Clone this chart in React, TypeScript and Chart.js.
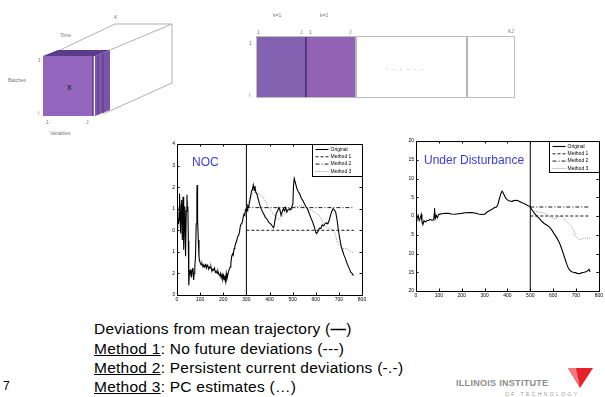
import React, { useEffect, useRef } from 'react';
import Chart from 'chart.js/auto';

// ---------- DATA ----------
const xTicks = [0, 100, 200, 300, 400, 500, 600, 700, 800];
const xTickLabels = ['0', '100', '200', '300', '400', '500', '600', '700', '800'];
const legendLabels = ['Original', 'Method 1', 'Method 2', 'Method 3'];

// NOC chart
const nocYTicks = [-3, -2, -1, 0, 1, 2, 3, 4];
const nocYTickLabels = ['3', '2', '1', '0', '1', '2', '3', '4'];
const nocTime = [0, 2, 4, 6, 9, 11, 13, 16, 18, 20, 22, 23, 26, 28, 30, 32, 34, 37, 40, 43, 45, 47, 49, 51, 54, 57, 60, 63, 66, 69, 72, 74, 77, 80, 83, 86, 87, 89, 92, 95, 97, 100, 104, 108, 112, 116, 119, 123, 127, 130, 133, 137, 140, 144, 147, 151, 155, 158, 162, 166, 170, 174, 177, 181, 185, 188, 191, 195, 198, 201, 204, 207, 210, 213, 216, 219, 222, 226, 230, 233, 237, 240, 243, 247, 250, 254, 258, 262, 266, 270, 274, 278, 282, 286, 290, 293, 296, 300, 303, 306, 310, 314, 318, 322, 326, 330, 334, 337, 341, 345, 350, 356, 362, 368, 375, 382, 390, 398, 405, 412, 417, 420, 425, 430, 436, 440, 445, 450, 455, 460, 465, 470, 475, 480, 486, 492, 497, 501, 504, 507, 512, 518, 524, 530, 537, 543, 550, 557, 564, 571, 578, 586, 594, 600, 604, 610, 616, 622, 628, 634, 640, 646, 652, 658, 664, 670, 675, 680, 686, 692, 698, 704, 710, 716, 722, 728, 734, 740, 746, 752, 757, 763];
const nocOriginal = [0.1, 0.9, 1.1, 0.3, 0.5, 1.7, 0.6, -0.15, 1.2, 1.4, 0.2, -0.45, 1.55, 0.8, -0.9, 0.5, 1.1, -1.2, 0.9, 1.65, 1.0, 1.1, -0.5, -2.55, -1.9, -1.85, -2.1, -2.15, -1.8, -1.75, -2.3, -2.0, -1.7, -1.2, 0.3, 1.6, 2.1, 0.5, -0.45, -1.2, -1.4, -1.5, -1.6, -1.55, -1.7, -1.6, -1.7, -1.6, -1.75, -1.6, -1.65, -1.8, -1.7, -1.75, -1.7, -1.9, -1.8, -1.85, -1.75, -1.95, -1.9, -2.0, -1.9, -2.05, -2.1, -2.0, -2.2, -2.05, -2.25, -2.1, -2.3, -2.1, -2.35, -2.0, -2.25, -2.1, -1.95, -1.8, -1.7, -1.5, -1.2, -1.1, -1.15, -0.85, -0.75, -0.6, -0.5, -0.3, -0.25, -0.1, 0.2, 0.3, 0.35, 0.6, 0.75, 0.7, 0.95, 1.0, 0.9, 1.15, 1.1, 1.3, 1.55, 1.8, 1.9, 2.1, 1.85, 2.05, 1.75, 1.7, 1.5, 1.25, 1.05, 0.9, 0.75, 0.6, 0.5, 0.35, 0.3, 0.2, 0.12, 0.2, 0.55, 0.8, 0.9, 1.05, 0.95, 0.7, 0.85, 1.0, 0.9, 1.05, 0.85, 0.95, 1.0, 0.95, 1.1, 1.2, 2.1, 2.4, 2.2, 1.95, 1.8, 1.7, 1.5, 1.4, 1.25, 1.1, 1.0, 0.8, 0.6, 0.4, 0.15, -0.1, -0.15, -0.05, 0.1, 0.08, 0.25, 0.2, 0.3, 0.35, 0.3, 0.45, 0.7, 0.9, 1.0, 0.95, 0.85, 0.5, 0.0, -0.4, -0.75, -0.95, -1.15, -1.3, -1.5, -1.65, -1.8, -1.95, -2.0, -2.1];
const nocM3Time = [300, 310, 318, 326, 334, 344, 352, 362, 371, 382, 393, 404, 414, 425, 436, 446, 457, 468, 479, 493, 507, 521, 536, 550, 564, 575, 586, 600, 614, 625, 636, 647, 657, 668, 679, 686, 693, 703, 714, 725, 736, 746, 757, 763];
const nocMethod3 = [1.0, 1.3, 1.55, 1.7, 1.75, 1.75, 1.7, 1.6, 1.55, 1.35, 1.1, 0.95, 0.8, 0.65, 0.5, 0.55, 0.7, 0.8, 0.85, 0.95, 1.1, 1.1, 1.15, 1.1, 1.0, 0.95, 0.9, 0.8, 0.7, 0.5, 0.25, 0.15, 0.1, 0.05, 0.0, -0.25, -0.55, -0.7, -0.85, -0.85, -0.85, -0.95, -1.0, -1.05];
const nocFlatTime = [300, 765];
const nocMethod1 = [0, 0];
const nocMethod2 = [1.05, 1.05];
const nocSplit = 300;

// Disturbance chart
const disYTicks = [-20, -15, -10, -5, 0, 5, 10, 15, 20];
const disYTickLabels = ['20', '15', '10', '5', '0', '5', '10', '15', '20'];
const disTime = [0, 4, 9, 14, 19, 23, 26, 30, 35, 41, 48, 55, 62, 70, 77, 80, 81, 84, 88, 93, 99, 106, 113, 128, 142, 156, 171, 186, 200, 215, 230, 243, 258, 272, 287, 301, 310, 316, 327, 338, 345, 352, 358, 364, 369, 374, 377, 381, 386, 392, 400, 410, 420, 428, 436, 445, 455, 462, 472, 483, 492, 500, 508, 519, 530, 540, 550, 561, 572, 583, 594, 604, 615, 626, 633, 640, 647, 654, 660, 666, 672, 679, 688, 697, 705, 712, 720, 726, 736, 747, 753, 757, 762];
const disOriginal = [0, -0.7, 0.2, -1.2, -0.5, 0.4, -1.6, -2.3, -1.2, -1.6, -1.2, -1.2, -0.9, -1.2, -1.0, 0.5, 2.1, -0.7, 0.2, -0.5, 0.4, 0.5, 0.6, 0.7, 0.7, 0.55, 0.45, 0.6, 0.7, 0.85, 0.9, 0.9, 0.8, 0.55, 0.4, 0.5, 1.0, 1.25, 1.6, 2.0, 2.3, 2.4, 3.0, 4.4, 5.5, 6.4, 6.6, 6.2, 5.6, 4.8, 4.3, 4.0, 3.9, 4.1, 4.2, 4.1, 3.8, 3.6, 3.3, 3.0, 2.7, 2.4, 1.6, 0.6, -0.1, -0.7, -1.4, -2.0, -2.4, -2.9, -3.7, -4.7, -5.7, -6.9, -8.0, -9.2, -10.5, -11.8, -12.9, -13.8, -14.4, -14.8, -15.0, -15.1, -15.3, -15.4, -15.3, -15.1, -15.0, -14.8, -14.5, -14.2, -14.9];
const disM3Time = [500, 504, 507, 516, 526, 537, 547, 558, 569, 580, 590, 600, 612, 622, 633, 640, 647, 655, 662, 672, 683, 690, 697, 704, 712, 722, 733, 745, 755, 762];
const disMethod3 = [2.4, 1.6, 1.5, 1.3, 1.25, 1.1, 0.9, 0.8, 0.6, 0.1, -0.45, -0.6, -0.7, -0.3, 0.0, -0.3, -0.7, -1.2, -1.6, -2.2, -2.9, -3.8, -5.2, -5.8, -6.2, -6.2, -6.0, -5.9, -5.9, -5.9];
const disFlatTime = [500, 762];
const disMethod1 = [0, 0];
const disMethod2 = [2.4, 2.4];
const disSplit = 500;

// ---------- helpers ----------
const FONT = '"Liberation Sans", Arial, Helvetica, sans-serif';
const pts = (xs: number[], ys: number[]) => xs.map((x, i) => ({ x, y: ys[i] }));

const framePlugin = {
  id: 'frameBox',
  afterDraw(chart: any) {
    const { ctx, chartArea: a, scales } = chart;
    ctx.save();
    ctx.strokeStyle = '#000';
    ctx.lineWidth = 1;
    ctx.strokeRect(Math.round(a.left) + 0.5, Math.round(a.top) + 0.5, Math.round(a.right - a.left), Math.round(a.bottom - a.top));
    const tl = 2.5;
    ctx.beginPath();
    scales.x.ticks.forEach((t: any) => {
      const px = Math.round(scales.x.getPixelForValue(t.value)) + 0.5;
      ctx.moveTo(px, a.bottom); ctx.lineTo(px, a.bottom - tl);
      ctx.moveTo(px, a.top); ctx.lineTo(px, a.top + tl);
    });
    scales.y.ticks.forEach((t: any) => {
      const py = Math.round(scales.y.getPixelForValue(t.value)) + 0.5;
      ctx.moveTo(a.left, py); ctx.lineTo(a.left + tl, py);
      ctx.moveTo(a.right, py); ctx.lineTo(a.right - tl, py);
    });
    ctx.stroke();
    ctx.restore();
  },
};

const legendPlugin = {
  id: 'boxLegend',
  afterDraw(chart: any, _args: any, opts: any) {
    const { ctx, chartArea: a } = chart;
    const w = opts.width, h = opts.height;
    const x0 = Math.round(a.right - w) + 0.5, y0 = Math.round(a.top) + 0.5;
    ctx.save();
    ctx.fillStyle = '#fff';
    ctx.fillRect(x0, y0, w, h);
    ctx.strokeStyle = '#000';
    ctx.lineWidth = 1;
    ctx.strokeRect(x0, y0, w, h);
    const rows = chart.data.datasets.slice(0, 4);
    ctx.font = `5px ${FONT}`;
    ctx.textBaseline = 'middle';
    rows.forEach((ds: any, i: number) => {
      const y = y0 + opts.rowTop + i * opts.rowGap;
      ctx.beginPath();
      ctx.setLineDash(ds.borderDash || []);
      ctx.strokeStyle = ds.borderColor;
      ctx.lineWidth = ds.borderWidth;
      ctx.moveTo(x0 + 3, y);
      ctx.lineTo(x0 + 16, y);
      ctx.stroke();
      ctx.setLineDash([]);
      ctx.fillStyle = '#000';
      ctx.fillText(legendLabels[i], x0 + 18, y);
    });
    ctx.restore();
  },
};

function makeConfig(o: any) {
  return {
    type: 'line',
    data: {
      datasets: [
        { label: legendLabels[0], data: pts(o.t, o.orig), borderColor: '#000', borderWidth: 1.1, pointRadius: 0, tension: 0 },
        { label: legendLabels[1], data: pts(o.flatT, o.m1), borderColor: '#000', borderWidth: 0.9, borderDash: [3, 2], pointRadius: 0 },
        { label: legendLabels[2], data: pts(o.flatT, o.m2), borderColor: '#000', borderWidth: 0.9, borderDash: [4, 2, 1, 2], pointRadius: 0 },
        { label: legendLabels[3], data: pts(o.m3T, o.m3), borderColor: '#8c8c8c', borderWidth: 0.9, borderDash: [1, 1], pointRadius: 0 },
        { label: 'split', data: [{ x: o.split, y: o.yMin }, { x: o.split, y: o.yMax }], borderColor: '#000', borderWidth: 1, pointRadius: 0 },
      ],
    },
    options: {
      responsive: false,
      maintainAspectRatio: false,
      animation: false,
      events: [],
      layout: { padding: o.padding },
      plugins: {
        legend: { display: false },
        tooltip: { enabled: false },
        boxLegend: o.legend,
      },
      scales: {
        x: {
          type: 'linear', min: 0, max: 800,
          afterBuildTicks: (s: any) => { s.ticks = xTicks.map((v) => ({ value: v })); },
          afterFit: (s: any) => { s.height = 10; },
          ticks: {
            font: { size: 5, family: FONT }, color: '#000', padding: 2, maxRotation: 0, autoSkip: false,
            callback: (v: number) => { const i = xTicks.indexOf(v); return i >= 0 ? xTickLabels[i] : ''; },
          },
          grid: { display: false, drawTicks: false },
          border: { display: false },
        },
        y: {
          type: 'linear', min: o.yMin, max: o.yMax,
          afterBuildTicks: (s: any) => { s.ticks = o.yTicks.map((v: number) => ({ value: v })); },
          afterFit: (s: any) => { s.width = o.yWidth; },
          ticks: {
            font: { size: 5, family: FONT }, color: '#000', padding: 2, autoSkip: false,
            callback: (v: number) => { const i = o.yTicks.indexOf(v); return i >= 0 ? o.yLabels[i] : ''; },
          },
          grid: { display: false, drawTicks: false },
          border: { display: false },
        },
      },
    },
    plugins: [framePlugin, legendPlugin],
  } as any;
}

function ChartBox({ config, left, top, width, height }: any) {
  const ref = useRef<HTMLCanvasElement>(null);
  useEffect(() => {
    const chart = new Chart(ref.current as HTMLCanvasElement, config);
    return () => chart.destroy();
  }, []);
  return (
    <canvas ref={ref} width={width} height={height}
      style={{ position: 'absolute', left, top, width, height }} />
  );
}

const nocConfig = makeConfig({
  t: nocTime, orig: nocOriginal, m3T: nocM3Time, m3: nocMethod3, flatT: nocFlatTime,
  m1: nocMethod1, m2: nocMethod2, split: nocSplit, yMin: -3, yMax: 4,
  yTicks: nocYTicks, yLabels: nocYTickLabels, yWidth: 22,
  padding: { left: 0, top: 6, right: 8, bottom: 0 },
  legend: { width: 50, height: 32, rowTop: 5, rowGap: 7.3 },
});
const disConfig = makeConfig({
  t: disTime, orig: disOriginal, m3T: disM3Time, m3: disMethod3, flatT: disFlatTime,
  m1: disMethod1, m2: disMethod2, split: disSplit, yMin: -20, yMax: 20,
  yTicks: disYTicks, yLabels: disYTickLabels, yWidth: 24,
  padding: { left: 0, top: 7, right: 5, bottom: 0 },
  legend: { width: 50, height: 31, rowTop: 5, rowGap: 7.3 },
});

const tiny: React.CSSProperties = { position: 'absolute', fontFamily: FONT, fontSize: 5, color: '#777', lineHeight: '6px', whiteSpace: 'nowrap' };
const line: React.CSSProperties = { position: 'absolute', left: 94, fontFamily: FONT, fontSize: 15.5, letterSpacing: 0.25, color: '#000', lineHeight: '16px', whiteSpace: 'nowrap' };

export default function App() {
  return (
    <div style={{ position: 'fixed', left: 0, top: 0, width: 605, height: 397, background: '#fff', overflow: 'hidden' }}>
      {/* 3-D data block */}
      <svg width={200} height={140} style={{ position: 'absolute', left: 0, top: 0 }}>
        <g stroke="#b0b0b0" strokeWidth={1} fill="none">
          <line x1={60} y1={50} x2={115} y2={24} />
          <line x1={115} y1={24} x2={172} y2={24} />
          <line x1={110} y1={50} x2={172} y2={24} />
          <line x1={172} y1={24} x2={172} y2={83} />
          <line x1={103} y1={114} x2={172} y2={83} />
        </g>
        <polygon points="43,56 58,50 110,50 95,56" fill="#5b3c88" />
        <polygon points="95,56 110,50 110,110 95,116" fill="#7a55aa" />
        <line x1={98} y1={55} x2={98} y2={115} stroke="#5b3c88" strokeWidth={1} />
        <line x1={103} y1={53} x2={103} y2={113} stroke="#5b3c88" strokeWidth={1} />
        <rect x={43} y={56} width={50} height={60} fill="#9466bd" />
        <line x1={93} y1={56} x2={93} y2={116} stroke="#5b3c88" strokeWidth={1.5} />
        <text x={67} y={90} fontSize={7} fontFamily={FONT} fill="#333" fontWeight="bold">X</text>
      </svg>
      <div style={{ ...tiny, left: 114, top: 14 }}>K</div>
      <div style={{ ...tiny, left: 60, top: 32 }}>Time</div>
      <div style={{ ...tiny, left: 8, top: 77 }}>Batches</div>
      <div style={{ ...tiny, left: 38, top: 57 }}>1</div>
      <div style={{ ...tiny, left: 38, top: 110 }}>I</div>
      <div style={{ ...tiny, left: 46, top: 119 }}>1</div>
      <div style={{ ...tiny, left: 86, top: 119 }}>J</div>
      <div style={{ ...tiny, left: 50, top: 130 }}>Variables</div>

      {/* unfolded matrix */}
      <div style={{ position: 'absolute', left: 256, top: 36, width: 259, height: 62, border: '1.5px solid #bdbdbd', boxSizing: 'border-box', background: '#fff' }} />
      <div style={{ position: 'absolute', left: 257, top: 37, width: 49, height: 60, background: '#8262b0' }} />
      <div style={{ position: 'absolute', left: 305, top: 37, width: 2, height: 60, background: '#563a80' }} />
      <div style={{ position: 'absolute', left: 307, top: 37, width: 48, height: 60, background: '#9263b5' }} />
      <div style={{ position: 'absolute', left: 355, top: 37, width: 1.5, height: 60, background: '#b5b5b5' }} />
      <div style={{ position: 'absolute', left: 466, top: 37, width: 1.5, height: 60, background: '#b5b5b5' }} />
      <div style={{ ...tiny, left: 386, top: 66, letterSpacing: 2 }}>- - - - - -</div>
      <div style={{ ...tiny, left: 273, top: 12 }}>k=1</div>
      <div style={{ ...tiny, left: 320, top: 12 }}>k=2</div>
      <div style={{ ...tiny, left: 257, top: 29 }}>1</div>
      <div style={{ ...tiny, left: 300, top: 29 }}>J</div>
      <div style={{ ...tiny, left: 309, top: 29 }}>1</div>
      <div style={{ ...tiny, left: 349, top: 29 }}>J</div>
      <div style={{ ...tiny, left: 508, top: 28 }}>KJ</div>
      <div style={{ ...tiny, left: 249, top: 40 }}>1</div>
      <div style={{ ...tiny, left: 249, top: 92 }}>I</div>

      {/* charts */}
      <ChartBox config={nocConfig} left={155} top={138} width={215} height={167} />
      <ChartBox config={disConfig} left={392} top={134} width={213} height={167} />
      <div style={{ position: 'absolute', left: 192, top: 155, fontFamily: FONT, fontSize: 12, color: '#3b3bdd', whiteSpace: 'nowrap' }}>NOC</div>
      <div style={{ position: 'absolute', left: 424, top: 153, fontFamily: FONT, fontSize: 12, color: '#3b3bdd', whiteSpace: 'nowrap' }}>Under Disturbance</div>

      {/* bottom text */}
      <div style={{ ...line, top: 321 }}>Deviations from mean trajectory (<b>—</b>)</div>
      <div style={{ ...line, top: 341 }}><u>Method 1</u>: No future deviations (---)</div>
      <div style={{ ...line, top: 360 }}><u>Method 2</u>: Persistent current deviations (-.-)</div>
      <div style={{ ...line, top: 379 }}><u>Method 3</u>: PC estimates (…)</div>
      <div style={{ position: 'absolute', left: 3, top: 379, fontFamily: FONT, fontSize: 12, color: '#000' }}>7</div>

      {/* logo */}
      <div style={{ position: 'absolute', left: 456, top: 378, fontFamily: FONT, fontSize: 9, fontWeight: 'bold', color: '#8c8c8c', whiteSpace: 'nowrap', letterSpacing: 0.3 }}>ILLINOIS INSTITUTE</div>
      <svg width={30} height={24} style={{ position: 'absolute', left: 566, top: 367 }}>
        <polygon points="2,1 27,1 14,21" fill="#e8202a" />
        <polygon points="2,1 10,1 14,21" fill="#f07a80" />
      </svg>
      <div style={{ position: 'absolute', left: 505, top: 391, fontFamily: FONT, fontSize: 5, color: '#9a9a9a', whiteSpace: 'nowrap', letterSpacing: 2.4 }}>OF TECHNOLOGY</div>
    </div>
  );
}
